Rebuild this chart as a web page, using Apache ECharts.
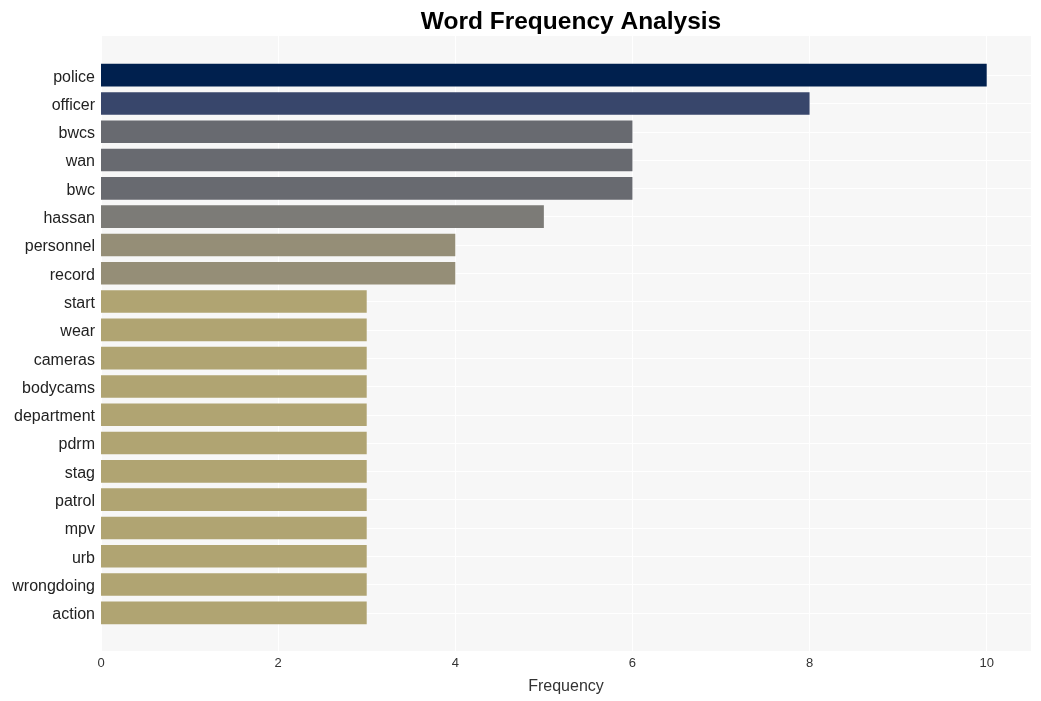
<!DOCTYPE html>
<html>
<head>
<meta charset="utf-8">
<script src="https://cdn.jsdelivr.net/npm/echarts@6/dist/echarts.min.js"></script>
<style>html,body{margin:0;padding:0;background:#fff}#c{width:1041px;height:701px}</style>
</head>
<body>
<div id="c"></div>
<script>
const categories = ["police","officer","bwcs","wan","bwc","hassan","personnel","record","start","wear","cameras","bodycams","department","pdrm","stag","patrol","mpv","urb","wrongdoing","action"];
const frequencies = [10,8,6,6,6,5,4,4,3,3,3,3,3,3,3,3,3,3,3,3];
const xTicks = [0,2,4,6,8,10];

// colour by value (style only)
const colorByValue = {10:"#00204e",8:"#38466b",6:"#686a70",5:"#7c7b77",4:"#958e77",3:"#b0a472"};

const chart = echarts.init(document.getElementById('c'), null, {renderer:'canvas'});
const font = "'Liberation Sans', Arial, sans-serif";
chart.setOption({
  animation:false,
  title:{text:"Word Frequency Analysis",left:566,textAlign:'center',top:5,
    textStyle:{fontFamily:font,fontSize:24.5,fontWeight:'bold',color:'#000'}},
  grid:[
    {left:101,right:10,top:61,height:566,containLabel:false},
    {left:101,right:10,top:36,bottom:50,show:true,backgroundColor:'#f7f7f7',borderWidth:0,z:0}
  ],
  xAxis:[
    {gridIndex:0,type:'value',min:0,max:10.5,show:false},
    {gridIndex:1,type:'value',min:0,max:10.5,interval:2,
      axisLine:{show:false},axisTick:{show:false},
      axisLabel:{fontFamily:font,fontSize:13,color:'#333',margin:6,
        formatter:v=>xTicks.includes(v)?String(v):''},
      splitLine:{show:true,lineStyle:{color:'#ffffff',width:1}},
      name:'Frequency',nameLocation:'middle',nameGap:28,
      nameTextStyle:{fontFamily:font,fontSize:16,color:'#333'}}
  ],
  yAxis:[
    {gridIndex:0,type:'category',data:categories,inverse:true,
      axisLine:{show:false},axisTick:{show:false},splitLine:{show:false},
      axisLabel:{margin:6,formatter:v=>'{a|'+v+'}',
        rich:{a:{fontFamily:font,fontSize:16,color:'#222',padding:[4,0,0,0]}}}},
    {gridIndex:1,type:'value',show:false,min:0,max:1}
  ],
  series:[
    {type:'line',xAxisIndex:0,yAxisIndex:0,data:[],z:1,silent:true,showSymbol:false,
     markLine:{silent:true,symbol:'none',label:{show:false},animation:false,z:1,zlevel:0,
       lineStyle:{color:'#ffffff',width:1,type:'solid'},
       data:categories.map(c=>({yAxis:c}))}},
    {type:'bar',xAxisIndex:0,yAxisIndex:0,barWidth:'80%',z:10,
     data:frequencies.map(v=>({value:v,itemStyle:{color:colorByValue[v]}}))}
  ]
});
</script>
</body>
</html>
